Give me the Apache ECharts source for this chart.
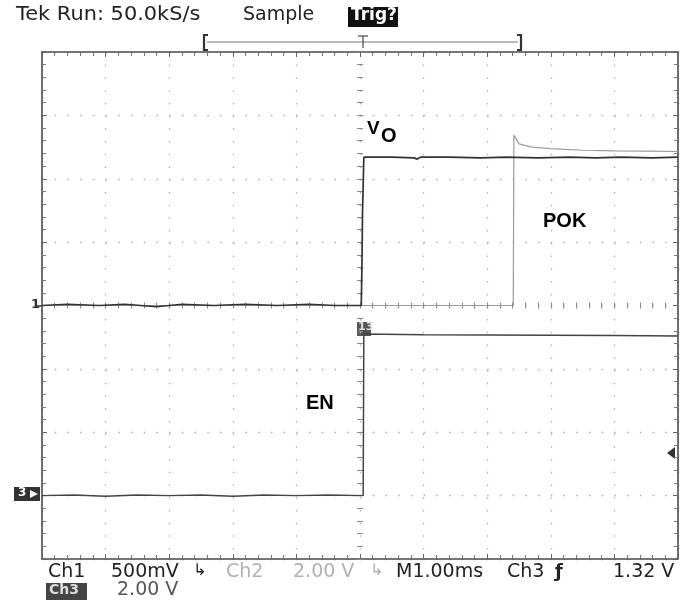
<!DOCTYPE html>
<html>
<head>
<meta charset="utf-8">
<script src="https://cdn.jsdelivr.net/npm/echarts@6/dist/echarts.min.js"></script>
<style>
  html, body { margin: 0; padding: 0; background: #fff; }
  #scope { width: 680px; height: 602px; }
</style>
</head>
<body>
<div id="scope"></div>
<script>
// time base: M1.00ms, 10 divisions, trigger at centre (0 ms)
const timeMin = -5;
const timeMax = 5;

// channel settings: volts per division and ground offset in divisions
const voScale = 0.5, voOffset = 0;   // Ch1 500mV
const pokScale = 2, pokOffset = 0;   // Ch2 2.00 V
const enScale = 2, enOffset = -3;    // Ch3 2.00 V

// traces, [ms, volts]
const voTrace = [
  [-5, 0], [-4.6, 0.01], [-4.1, 0], [-3.7, 0.01], [-3.2, -0.01], [-2.8, 0.01],
  [-2.3, 0], [-1.8, 0.01], [-1.3, 0], [-0.8, 0.01], [-0.4, 0], [0.02, 0],
  [0.03, 0.3], [0.04, 0.75], [0.05, 0.95], [0.06, 1.17], [0.5, 1.17],
  [0.85, 1.165], [0.9, 1.155], [0.95, 1.17], [1.4, 1.17], [1.9, 1.165], [2.3, 1.17],
  [2.8, 1.165], [3.3, 1.17], [3.7, 1.165], [4.1, 1.17], [4.6, 1.165], [5, 1.17]
];
const pokTrace = [
  [-5, 0], [2.41, 0], [2.42, 5.38], [2.5, 5.1], [2.7, 5.0], [3.0, 4.95],
  [3.5, 4.9], [4.0, 4.88], [4.5, 4.87], [5, 4.86]
];
const enTrace = [
  [-5, 0], [-4.5, 0.02], [-4.0, -0.02], [-3.5, 0.02], [-3.0, 0], [-2.5, 0.02],
  [-2.0, -0.02], [-1.5, 0.02], [-1.0, 0], [-0.5, 0.02], [0.05, 0],
  [0.06, 5.1], [1.0, 5.08], [2.0, 5.07], [3.0, 5.06], [4.0, 5.05], [5, 5.04]
];

function toDiv(trace, scale, offset) {
  return trace.map(p => [p[0], p[1] / scale + offset]);
}

const chart = echarts.init(document.getElementById('scope'));

const G = { left: 42, top: 52, width: 636, height: 507 };
const scopeFont = '"DejaVu Sans", sans-serif';
const tagFont = '"Liberation Sans", Arial, sans-serif';

function borderX(pos, extra) {
  return Object.assign({
    type: 'value', min: timeMin, max: timeMax, interval: 1, position: pos,
    axisLine: { show: true, onZero: false, lineStyle: { color: '#4a4a4a', width: 1.6 } },
    axisTick: { show: true, inside: true, length: 5, lineStyle: { color: '#666' } },
    minorTick: { show: true, splitNumber: 5, length: 4, lineStyle: { color: '#777' } },
    axisLabel: { show: false },
    splitLine: { show: false }
  }, extra || {});
}
function borderY(pos, extra) {
  return Object.assign({
    type: 'value', min: -4, max: 4, interval: 1, position: pos,
    axisLine: { show: true, onZero: false, lineStyle: { color: '#4a4a4a', width: 1.6 } },
    axisTick: { show: true, inside: true, length: 5, lineStyle: { color: '#666' } },
    minorTick: { show: true, splitNumber: 5, length: 4, lineStyle: { color: '#777' } },
    axisLabel: { show: false },
    splitLine: { show: false }
  }, extra || {});
}
const dotted = { show: true, lineStyle: { color: '#b0b0b0', width: 1.3, type: [1.5, 11.22] } };
const centre = {
  axisLine: { show: false },
  axisTick: { show: true, inside: true, length: 3, lineStyle: { color: '#888' } },
  minorTick: { show: true, splitNumber: 5, length: 3, lineStyle: { color: '#888' } }
};
const centreOut = {
  axisLine: { show: false },
  axisTick: { show: true, inside: false, length: 3, lineStyle: { color: '#888' } },
  minorTick: { show: true, splitNumber: 5, length: 3, lineStyle: { color: '#888' } }
};

function txt(x, y, s, font, fill) {
  return { type: 'text', left: x, top: y, style: { text: s, font: font, fill: fill || '#222' } };
}
const hdr = '19px ' + scopeFont;

const option = {
  animation: false,
  backgroundColor: '#fff',
  grid: { left: G.left, top: G.top, width: G.width, height: G.height },
  xAxis: [
    borderX('bottom', { splitLine: dotted }),
    borderX('top'),
    borderX('bottom', Object.assign({ offset: -G.height / 2 }, centre)),
    borderX('bottom', Object.assign({ offset: -G.height / 2 }, centreOut))
  ],
  yAxis: [
    borderY('left', { splitLine: dotted }),
    borderY('right'),
    borderY('left', Object.assign({ offset: -G.width / 2 }, centre)),
    borderY('left', Object.assign({ offset: -G.width / 2 }, centreOut))
  ],
  series: [
    {
      name: 'POK', type: 'line', showSymbol: false,
      data: toDiv(pokTrace, pokScale, pokOffset),
      lineStyle: { color: '#9a9a9a', width: 1.2 }
    },
    {
      name: 'VO', type: 'line', showSymbol: false,
      data: toDiv(voTrace, voScale, voOffset),
      lineStyle: { color: '#333', width: 1.7 }
    },
    {
      name: 'EN', type: 'line', showSymbol: false,
      data: toDiv(enTrace, enScale, enOffset),
      lineStyle: { color: '#444', width: 1.5 }
    }
  ],
  graphic: [
    // header
    { type: 'text', x: 16, y: 6, scaleX: 1.1, style: { text: 'Tek Run: 50.0kS/s', font: hdr, fill: '#222' } },
    txt(243, 6, 'Sample', hdr),
    { type: 'rect', shape: { x: 348, y: 7, width: 50, height: 20 }, style: { fill: '#111' } },
    txt(351, 7, 'Trig?', 'bold 17px ' + scopeFont, '#fff'),
    // record bracket
    { type: 'line', shape: { x1: 207, y1: 42, x2: 518, y2: 42 }, style: { stroke: '#bbb', lineWidth: 2 } },
    { type: 'polyline', shape: { points: [[208, 35], [204, 35], [204, 50], [208, 50]] }, style: { stroke: '#333', lineWidth: 2.2, fill: null } },
    { type: 'polyline', shape: { points: [[517, 35], [521, 35], [521, 50], [517, 50]] }, style: { stroke: '#333', lineWidth: 2.2, fill: null } },
    { type: 'polyline', shape: { points: [[358, 36], [368, 36]] }, style: { stroke: '#555', lineWidth: 1.3 } },
    { type: 'polyline', shape: { points: [[363, 36], [363, 48]] }, style: { stroke: '#555', lineWidth: 1.3 } },
    // ground / level markers
    txt(31, 298, '1', 'bold 13px ' + scopeFont, '#333'),
    { type: 'line', shape: { x1: 37, y1: 306, x2: 43, y2: 306 }, style: { stroke: '#333', lineWidth: 1.5 } },
    { type: 'rect', shape: { x: 14, y: 487, width: 26, height: 14 }, style: { fill: '#333' } },
    txt(18, 487, '3', 'bold 12px ' + scopeFont, '#fff'),
    { type: 'polygon', shape: { points: [[30, 490], [38, 494], [30, 498]] }, style: { fill: '#fff' } },
    { type: 'rect', shape: { x: 357, y: 322, width: 14, height: 14 }, style: { fill: '#555' } },
    txt(358, 322, '13', 'bold 11px ' + scopeFont, '#ddd'),
    { type: 'polygon', shape: { points: [[675, 447], [667, 453], [675, 459]] }, style: { fill: '#333' } },
    // trace tags
    txt(367, 119, 'V', 'bold 19px ' + tagFont, '#000'),
    txt(381, 126, 'O', 'bold 20px ' + tagFont, '#000'),
    txt(543, 211, 'POK', 'bold 20px ' + tagFont, '#000'),
    txt(306, 393, 'EN', 'bold 20px ' + tagFont, '#000'),
    // footer
    txt(48, 563, 'Ch1', hdr),
    txt(111, 563, '500mV', hdr),
    txt(193, 563, '↳', '16px ' + scopeFont),
    txt(226, 563, 'Ch2', hdr, '#b0b0b0'),
    txt(293, 563, '2.00 V', hdr, '#b0b0b0'),
    txt(370, 563, '↳', '16px ' + scopeFont, '#b0b0b0'),
    txt(396, 563, 'M1.00ms', hdr),
    txt(507, 563, 'Ch3', hdr),
    txt(555, 563, 'ƒ', 'bold 18px ' + scopeFont),
    txt(613, 563, '1.32 V', hdr),
    { type: 'rect', shape: { x: 46, y: 583, width: 41, height: 17 }, style: { fill: '#444' } },
    txt(49, 583, 'Ch3', 'bold 14px ' + scopeFont, '#ddd'),
    txt(117, 581, '2.00 V', hdr, '#555')
  ]
};

chart.setOption(option);
</script>
</body>
</html>
